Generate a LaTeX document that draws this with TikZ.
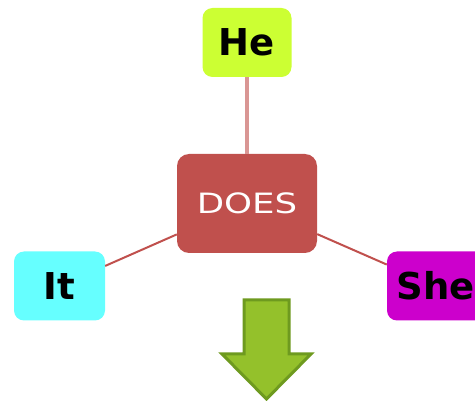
\documentclass[tikz,border=0pt]{standalone}
\usepackage{fontspec}
\setsansfont{DejaVu Sans}
\usetikzlibrary{positioning}

\definecolor{doesred}{HTML}{C0504D}
\definecolor{stemred}{HTML}{D99694}
\definecolor{helime}{HTML}{CCFF33}
\definecolor{itcyan}{HTML}{66FFFF}
\definecolor{shemag}{HTML}{CC00CC}
\definecolor{arrowfill}{HTML}{94C12B}
\definecolor{arrowline}{HTML}{6E9A1F}

\begin{document}
\begin{tikzpicture}[x=1pt,y=-1pt,
    word node/.style={rounded corners=10pt,inner sep=0pt,minimum width=89pt,minimum height=69pt,
      font=\sffamily\bfseries\fontsize{37}{37}\selectfont,text=black},
    verb node/.style={rounded corners=12pt,fill=doesred,inner sep=0pt,minimum width=140pt,minimum height=99pt,
      font=\sffamily\fontsize{28}{28}\selectfont,text=white}]
  \useasboundingbox (0,0) rectangle (475,401);
            \node[verb node] (does) at (247,203.5) {\scalebox{1.27}[1]{DOES}};
            \node[word node,fill=helime] (he) at (247,42.5) {He};
            \node[word node,fill=itcyan,minimum width=91pt] (it) at (59.5,286) {It};
            \node[word node,fill=shemag,minimum width=98pt] (she) at (436,286) {She};

            \draw[stemred,line width=4pt] (does) -- (he);
            \draw[doesred,line width=2pt] (does) -- (it);
            \draw[doesred,line width=2pt] (does) -- (she);

            % downward arrow
            \draw[arrowline,fill=arrowfill,line width=3pt,line join=miter]
              (244,300) -- (289,300) -- (289,354) -- (311,354) -- (266.5,399)
              -- (222,354) -- (244,354) -- cycle;
        \end{tikzpicture}
\end{document}
